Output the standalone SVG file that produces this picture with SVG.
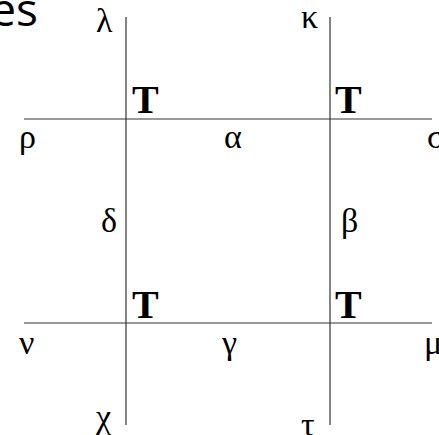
<svg xmlns="http://www.w3.org/2000/svg" width="439" height="435" viewBox="0 0 439 435">
<style>
.ln{stroke:#333;stroke-width:1.2;fill:none}
.g{font-family:"Liberation Serif","DejaVu Serif",serif;font-size:34px;fill:#000}
.t{font-family:"Liberation Serif","DejaVu Serif",serif;font-size:40px;font-weight:bold;fill:#000}
.s{font-family:"Open Sans","Liberation Sans",sans-serif;font-size:46px;fill:#000}
</style>
<rect width="439" height="435" fill="#fff"/>
<text class="s" x="38" y="26" text-anchor="end">es</text>
<g id="connectors">
<line class="ln" x1="126" y1="17" x2="126" y2="425"/>
<line class="ln" x1="330" y1="17" x2="330" y2="425"/>
<line class="ln" x1="24" y1="119" x2="432" y2="119"/>
<line class="ln" x1="24" y1="323" x2="432" y2="323"/>
</g>
<g id="n-lambda"><text class="g" x="96" y="32">λ</text></g>
<g id="n-kappa"><text class="g" x="301" y="28">κ</text></g>
<g id="n-T1"><text class="t" x="132" y="113">T</text></g>
<g id="n-T2"><text class="t" x="335" y="113">T</text></g>
<g id="n-rho"><text class="g" x="19" y="148">ρ</text></g>
<g id="n-alpha"><text class="g" x="224" y="148">α</text></g>
<g id="n-sigma"><text class="g" x="427" y="148">σ</text></g>
<g id="n-delta"><text class="g" x="101" y="232">δ</text></g>
<g id="n-beta"><text class="g" x="341" y="232">β</text></g>
<g id="n-T3"><text class="t" x="132" y="318">T</text></g>
<g id="n-T4"><text class="t" x="335" y="318">T</text></g>
<g id="n-nu"><text class="g" x="19" y="354">ν</text></g>
<g id="n-gamma"><text class="g" x="222" y="354">γ</text></g>
<g id="n-mu"><text class="g" x="424" y="354">μ</text></g>
<g id="n-chi"><text class="g" x="96" y="428">χ</text></g>
<g id="n-tau"><text class="g" x="301" y="436">τ</text></g>
</svg>
